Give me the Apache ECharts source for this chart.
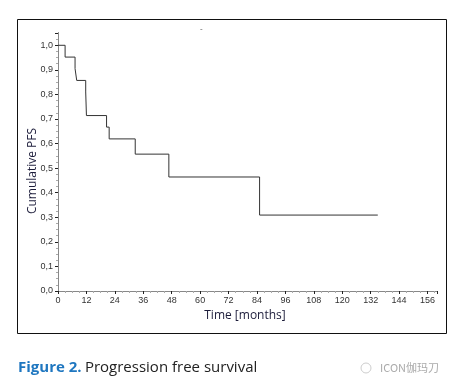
<!DOCTYPE html>
<html><head><meta charset="utf-8">
<script src="https://cdn.jsdelivr.net/npm/echarts@6/dist/echarts.min.js"></script>
<style>html,body{margin:0;padding:0;background:#fff}#c{width:452px;height:389px}</style>
</head><body><div id="c"></div>
<script>
var times = [0, 3, 7.2, 7.9, 11.7, 12, 20.5, 21.6, 32.6, 46.8, 85.1, 135];
var survival = [1.0, 0.952, 0.905, 0.857, 0.810, 0.714, 0.667, 0.619, 0.557, 0.464, 0.309, 0.309];
var xTicks = [0, 12, 24, 36, 48, 60, 72, 84, 96, 108, 120, 132, 144, 156];
var yTicks = ['0,0','0,1','0,2','0,3','0,4','0,5','0,6','0,7','0,8','0,9','1,0'];

var pts = times.map(function(t, i){ return [t, survival[i]]; });
var chart = echarts.init(document.getElementById('c'), null, {renderer:'canvas'});
var lblFont = {fontFamily:'Liberation Sans, Arial, sans-serif', fontSize:9, color:'#333'};
chart.setOption({
  animation:false,
  grid:{left:58, top:33, right:15, bottom:98},
  xAxis:[{
    type:'value', min:0, max:160, interval:12,
    axisLine:{show:true, lineStyle:{color:'#000', width:1}},
    axisTick:{show:true, inside:false, length:2, lineStyle:{color:'#888'}},
    minorTick:{show:true, splitNumber:2, length:2, lineStyle:{color:'#aaa'}},
    splitLine:{show:false},
    axisLabel:Object.assign({margin:5, formatter:function(v){ var i = xTicks.indexOf(v); return i>=0 ? String(xTicks[i]) : ''; }}, lblFont)
  },{
    type:'value', position:'top', min:0, max:160, interval:12,
    axisLine:{show:true, lineStyle:{color:'#888', width:1}},
    axisTick:{show:true, inside:true, length:3, lineStyle:{color:'#222'}},
    minorTick:{show:true, splitNumber:4, length:2, lineStyle:{color:'#aaa'}},
    splitLine:{show:false}, axisLabel:{show:false}
  }],
  yAxis:[{
    type:'value', min:0, max:1.05, interval:0.1,
    axisLine:{show:true, lineStyle:{color:'#000', width:1}},
    axisTick:{show:true, inside:false, length:2, lineStyle:{color:'#999'}},
    minorTick:{show:true, splitNumber:2, length:2, lineStyle:{color:'#bbb'}},
    splitLine:{show:false},
    axisLabel:Object.assign({margin:5, formatter:function(v){ var k = Math.round(v*10); return (Math.abs(v*10-k)<1e-6 && k<yTicks.length) ? yTicks[k] : ''; }}, lblFont)
  },{
    type:'value', position:'right', min:0, max:1.05, interval:0.1,
    axisLine:{show:true, lineStyle:{color:'#888', width:1}},
    axisTick:{show:true, inside:true, length:3, lineStyle:{color:'#222'}},
    minorTick:{show:true, splitNumber:4, length:2, lineStyle:{color:'#aaa'}},
    splitLine:{show:false}, axisLabel:{show:false}
  }],
  series:[{
    type:'line', step:'end', data:pts, symbol:'none',
    lineStyle:{color:'#333', width:1}, xAxisIndex:0, yAxisIndex:0
  }],
  graphic:[
    {type:'rect', shape:{x:17.5, y:19.5, width:429, height:314}, style:{fill:'none', stroke:'#111', lineWidth:1}, z:-1},
    {type:'text', x:200, y:25, style:{text:'-', fontSize:8, fill:'#555', fontFamily:'Liberation Sans'}},
    {type:'text', x:33, y:171, rotation:Math.PI/2, style:{text:'Cumulative PFS', fontSize:12, fill:'#1c1c3a', fontFamily:'Open Sans, Noto Sans, sans-serif', align:'center', verticalAlign:'middle'}},
    {type:'text', x:245, y:316, style:{text:'Time [months]', fontSize:12, fill:'#1c1c3a', fontFamily:'Open Sans, Noto Sans, sans-serif', align:'center', verticalAlign:'middle'}},
    {type:'text', x:18, y:368, style:{rich:{a:{fontSize:15, fontWeight:'bold', fill:'#1f77c0', fontFamily:'Open Sans, Noto Sans, sans-serif'}, b:{fontSize:15, fill:'#222', fontFamily:'Open Sans, Noto Sans, sans-serif'}}, text:'{a|Figure 2.} {b|Progression free survival}', verticalAlign:'middle'}},
    {type:'text', x:380, y:368, style:{text:'ICON伽玛刀', fontSize:11, fill:'#aaa', fontFamily:'Noto Sans CJK SC, sans-serif', verticalAlign:'middle'}},
    {type:'circle', shape:{cx:366, cy:368, r:5}, style:{fill:'none', stroke:'#ccc', lineWidth:1}}
  ]
});
</script></body></html>
